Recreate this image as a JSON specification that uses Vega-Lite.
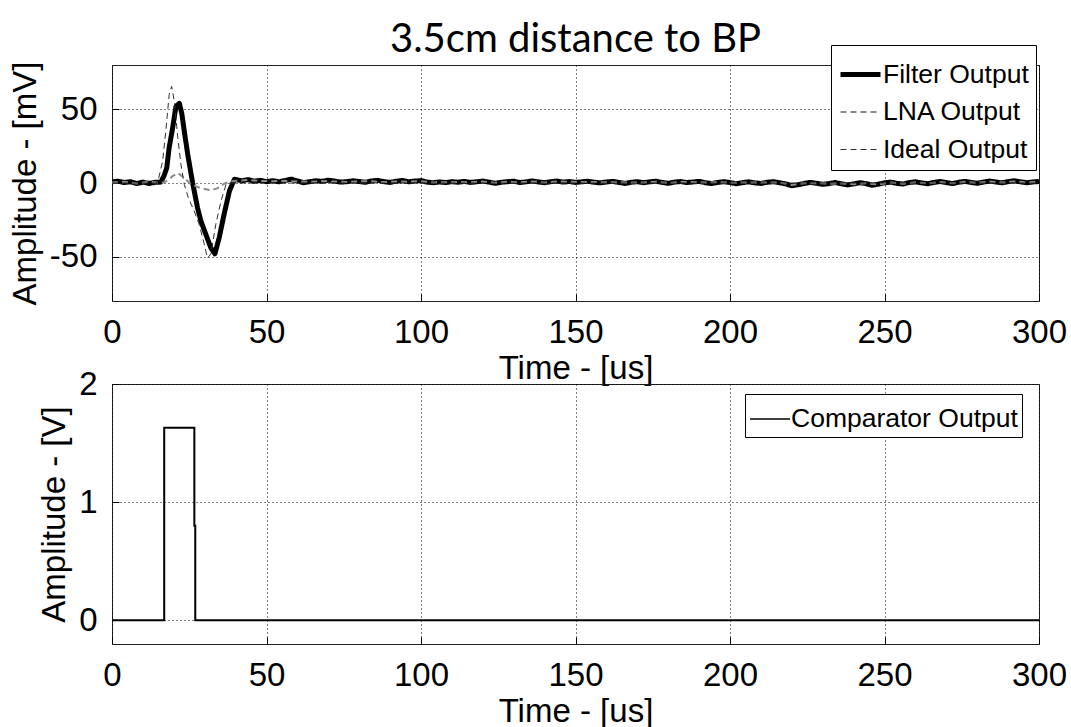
{
  "$schema": "https://vega.github.io/schema/vega-lite/v6.json",
  "padding": {"left": 8, "top": 20, "right": 0, "bottom": 0},
  "background": "white",
  "title": {"text": "3.5cm distance to BP", "font": "Lato", "fontSize": 40, "fontWeight": "normal", "color": "#000", "anchor": "middle", "frame": "group", "baseline": "alphabetic", "offset": -48},
  "datasets": {
    "top": [
      {"t": 0, "v": 0.8, "s": "Filter Output"}, {"t": 2, "v": 1.2, "s": "Filter Output"}, {"t": 4, "v": 0.3, "s": "Filter Output"}, {"t": 6, "v": 0.9, "s": "Filter Output"}, {"t": 8, "v": -0.4, "s": "Filter Output"}, {"t": 10, "v": 0.6, "s": "Filter Output"}, {"t": 12, "v": -0.3, "s": "Filter Output"}, {"t": 14, "v": 0.5, "s": "Filter Output"}, {"t": 15.8, "v": 0.6, "s": "Filter Output"},
      {"t": 16.8, "v": 4.7, "s": "Filter Output"}, {"t": 17.7, "v": 10, "s": "Filter Output"}, {"t": 18.5, "v": 24, "s": "Filter Output"}, {"t": 19.6, "v": 37, "s": "Filter Output"}, {"t": 20.7, "v": 52, "s": "Filter Output"}, {"t": 21.8, "v": 54, "s": "Filter Output"}, {"t": 22.6, "v": 47, "s": "Filter Output"}, {"t": 23.4, "v": 35, "s": "Filter Output"}, {"t": 24.5, "v": 19.5, "s": "Filter Output"}, {"t": 26.1, "v": 0, "s": "Filter Output"}, {"t": 27.7, "v": -17, "s": "Filter Output"}, {"t": 28.8, "v": -26, "s": "Filter Output"}, {"t": 30.4, "v": -35, "s": "Filter Output"}, {"t": 32, "v": -44, "s": "Filter Output"}, {"t": 33.3, "v": -48, "s": "Filter Output"}, {"t": 34.7, "v": -37, "s": "Filter Output"}, {"t": 36.3, "v": -21, "s": "Filter Output"}, {"t": 38, "v": -5.4, "s": "Filter Output"}, {"t": 39.6, "v": 2.5, "s": "Filter Output"},
      {"t": 42, "v": 1.5, "s": "Filter Output"}, {"t": 44, "v": 2.3, "s": "Filter Output"}, {"t": 46, "v": 1.2, "s": "Filter Output"}, {"t": 48, "v": 1.8, "s": "Filter Output"}, {"t": 50, "v": 0.9, "s": "Filter Output"}, {"t": 52, "v": 1.6, "s": "Filter Output"}, {"t": 54, "v": 0.8, "s": "Filter Output"}, {"t": 56, "v": 1.7, "s": "Filter Output"}, {"t": 58, "v": 2.6, "s": "Filter Output"}, {"t": 60, "v": 1.4, "s": "Filter Output"}, {"t": 62, "v": 0.2, "s": "Filter Output"}, {"t": 64, "v": 0.9, "s": "Filter Output"}, {"t": 66, "v": 1.5, "s": "Filter Output"}, {"t": 68, "v": 1.1, "s": "Filter Output"}, {"t": 70, "v": 1.9, "s": "Filter Output"}, {"t": 72, "v": 1.3, "s": "Filter Output"}, {"t": 74, "v": 0.6, "s": "Filter Output"}, {"t": 76, "v": 0.9, "s": "Filter Output"}, {"t": 78, "v": 1.5, "s": "Filter Output"}, {"t": 80, "v": 1.0, "s": "Filter Output"}, {"t": 82, "v": 0.5, "s": "Filter Output"}, {"t": 84, "v": 1.4, "s": "Filter Output"}, {"t": 86, "v": 1.8, "s": "Filter Output"}, {"t": 88, "v": 0.9, "s": "Filter Output"}, {"t": 90, "v": 0.4, "s": "Filter Output"}, {"t": 92, "v": 1.2, "s": "Filter Output"}, {"t": 94, "v": 1.7, "s": "Filter Output"}, {"t": 96, "v": 0.8, "s": "Filter Output"}, {"t": 98, "v": 1.3, "s": "Filter Output"}, {"t": 100, "v": 1.6, "s": "Filter Output"}, {"t": 102, "v": 0.6, "s": "Filter Output"}, {"t": 104, "v": 0.2, "s": "Filter Output"}, {"t": 106, "v": 0.7, "s": "Filter Output"}, {"t": 108, "v": 0.3, "s": "Filter Output"}, {"t": 110, "v": 0.9, "s": "Filter Output"}, {"t": 112, "v": 0.5, "s": "Filter Output"}, {"t": 114, "v": 1.1, "s": "Filter Output"}, {"t": 116, "v": 0.4, "s": "Filter Output"}, {"t": 118, "v": 0.8, "s": "Filter Output"}, {"t": 120, "v": 1.3, "s": "Filter Output"}, {"t": 122, "v": 0.6, "s": "Filter Output"}, {"t": 124, "v": -0.2, "s": "Filter Output"}, {"t": 126, "v": 0.5, "s": "Filter Output"}, {"t": 128, "v": 0.9, "s": "Filter Output"}, {"t": 130, "v": 1.2, "s": "Filter Output"}, {"t": 132, "v": 0.3, "s": "Filter Output"}, {"t": 134, "v": 0.8, "s": "Filter Output"}, {"t": 136, "v": 1.4, "s": "Filter Output"}, {"t": 138, "v": 0.7, "s": "Filter Output"}, {"t": 140, "v": 0.2, "s": "Filter Output"}, {"t": 142, "v": 0.9, "s": "Filter Output"}, {"t": 144, "v": 1.3, "s": "Filter Output"}, {"t": 146, "v": 0.6, "s": "Filter Output"}, {"t": 148, "v": 1.0, "s": "Filter Output"}, {"t": 150, "v": 0.4, "s": "Filter Output"}, {"t": 152, "v": 0.8, "s": "Filter Output"}, {"t": 154, "v": 1.2, "s": "Filter Output"}, {"t": 156, "v": 0.5, "s": "Filter Output"}, {"t": 158, "v": 0.1, "s": "Filter Output"}, {"t": 160, "v": 0.7, "s": "Filter Output"}, {"t": 162, "v": 1.1, "s": "Filter Output"}, {"t": 164, "v": 0.4, "s": "Filter Output"}, {"t": 166, "v": -0.3, "s": "Filter Output"}, {"t": 168, "v": 0.5, "s": "Filter Output"}, {"t": 170, "v": 0.9, "s": "Filter Output"}, {"t": 172, "v": 0.2, "s": "Filter Output"}, {"t": 174, "v": 0.8, "s": "Filter Output"}, {"t": 176, "v": 1.2, "s": "Filter Output"}, {"t": 178, "v": 0.4, "s": "Filter Output"}, {"t": 180, "v": -0.2, "s": "Filter Output"}, {"t": 182, "v": 0.6, "s": "Filter Output"}, {"t": 184, "v": 1.0, "s": "Filter Output"}, {"t": 186, "v": 0.3, "s": "Filter Output"}, {"t": 188, "v": 0.7, "s": "Filter Output"}, {"t": 190, "v": 1.1, "s": "Filter Output"}, {"t": 192, "v": 0.2, "s": "Filter Output"}, {"t": 194, "v": -0.4, "s": "Filter Output"}, {"t": 196, "v": 0.4, "s": "Filter Output"}, {"t": 198, "v": 0.9, "s": "Filter Output"}, {"t": 200, "v": 0.3, "s": "Filter Output"}, {"t": 202, "v": -0.5, "s": "Filter Output"}, {"t": 204, "v": 0.2, "s": "Filter Output"}, {"t": 206, "v": 0.8, "s": "Filter Output"}, {"t": 208, "v": 0.1, "s": "Filter Output"}, {"t": 210, "v": -0.3, "s": "Filter Output"}, {"t": 212, "v": 0.5, "s": "Filter Output"}, {"t": 214, "v": 0.9, "s": "Filter Output"}, {"t": 216, "v": 0.2, "s": "Filter Output"}, {"t": 218, "v": -0.6, "s": "Filter Output"}, {"t": 220, "v": -1.8, "s": "Filter Output"}, {"t": 222, "v": -1.2, "s": "Filter Output"}, {"t": 224, "v": -0.3, "s": "Filter Output"}, {"t": 226, "v": 0.4, "s": "Filter Output"}, {"t": 228, "v": -0.2, "s": "Filter Output"}, {"t": 230, "v": -0.9, "s": "Filter Output"}, {"t": 232, "v": -0.4, "s": "Filter Output"}, {"t": 234, "v": 0.3, "s": "Filter Output"}, {"t": 236, "v": -0.5, "s": "Filter Output"}, {"t": 238, "v": -1.3, "s": "Filter Output"}, {"t": 240, "v": -0.6, "s": "Filter Output"}, {"t": 242, "v": 0.2, "s": "Filter Output"}, {"t": 244, "v": -0.4, "s": "Filter Output"}, {"t": 246, "v": -1.5, "s": "Filter Output"}, {"t": 248, "v": -0.8, "s": "Filter Output"}, {"t": 250, "v": 0.1, "s": "Filter Output"}, {"t": 252, "v": 0.6, "s": "Filter Output"}, {"t": 254, "v": -0.2, "s": "Filter Output"}, {"t": 256, "v": -0.7, "s": "Filter Output"}, {"t": 258, "v": 0.3, "s": "Filter Output"}, {"t": 260, "v": 0.8, "s": "Filter Output"}, {"t": 262, "v": 0.1, "s": "Filter Output"}, {"t": 264, "v": -0.5, "s": "Filter Output"}, {"t": 266, "v": 0.4, "s": "Filter Output"}, {"t": 268, "v": 1.0, "s": "Filter Output"}, {"t": 270, "v": 0.3, "s": "Filter Output"}, {"t": 272, "v": -0.4, "s": "Filter Output"}, {"t": 274, "v": 0.5, "s": "Filter Output"}, {"t": 276, "v": 1.1, "s": "Filter Output"}, {"t": 278, "v": 0.4, "s": "Filter Output"}, {"t": 280, "v": -0.2, "s": "Filter Output"}, {"t": 282, "v": 0.6, "s": "Filter Output"}, {"t": 284, "v": 1.3, "s": "Filter Output"}, {"t": 286, "v": 0.7, "s": "Filter Output"}, {"t": 288, "v": 0.1, "s": "Filter Output"}, {"t": 290, "v": 0.9, "s": "Filter Output"}, {"t": 292, "v": 1.5, "s": "Filter Output"}, {"t": 294, "v": 0.8, "s": "Filter Output"}, {"t": 296, "v": 0.2, "s": "Filter Output"}, {"t": 298, "v": 0.7, "s": "Filter Output"}, {"t": 300, "v": 1.0, "s": "Filter Output"},

      {"t": 0, "v": 0.3, "s": "LNA Output"}, {"t": 4, "v": 0.8, "s": "LNA Output"}, {"t": 8, "v": -0.3, "s": "LNA Output"}, {"t": 12, "v": 0.9, "s": "LNA Output"}, {"t": 16, "v": 0.2, "s": "LNA Output"}, {"t": 17, "v": 0.5, "s": "LNA Output"}, {"t": 18.5, "v": 2.5, "s": "LNA Output"}, {"t": 19.6, "v": 4.7, "s": "LNA Output"}, {"t": 21.3, "v": 6.8, "s": "LNA Output"}, {"t": 23.3, "v": 3.6, "s": "LNA Output"}, {"t": 25.6, "v": -1, "s": "LNA Output"}, {"t": 28.8, "v": -3.5, "s": "LNA Output"}, {"t": 32, "v": -5, "s": "LNA Output"}, {"t": 34.2, "v": -3.5, "s": "LNA Output"}, {"t": 36.3, "v": -0.5, "s": "LNA Output"}, {"t": 38, "v": 0.8, "s": "LNA Output"}, {"t": 40, "v": 1.5, "s": "LNA Output"},
      {"t": 44, "v": 2.0, "s": "LNA Output"}, {"t": 48, "v": 1.4, "s": "LNA Output"}, {"t": 52, "v": 1.2, "s": "LNA Output"}, {"t": 56, "v": 1.5, "s": "LNA Output"}, {"t": 60, "v": 1.0, "s": "LNA Output"}, {"t": 64, "v": 0.8, "s": "LNA Output"}, {"t": 68, "v": 1.3, "s": "LNA Output"}, {"t": 72, "v": 1.0, "s": "LNA Output"}, {"t": 76, "v": 0.7, "s": "LNA Output"}, {"t": 80, "v": 1.1, "s": "LNA Output"}, {"t": 84, "v": 1.2, "s": "LNA Output"}, {"t": 88, "v": 0.6, "s": "LNA Output"}, {"t": 92, "v": 1.0, "s": "LNA Output"}, {"t": 96, "v": 0.9, "s": "LNA Output"}, {"t": 100, "v": 1.2, "s": "LNA Output"}, {"t": 104, "v": 0.4, "s": "LNA Output"}, {"t": 108, "v": 0.5, "s": "LNA Output"}, {"t": 112, "v": 0.7, "s": "LNA Output"}, {"t": 116, "v": 0.5, "s": "LNA Output"}, {"t": 120, "v": 1.0, "s": "LNA Output"}, {"t": 124, "v": 0.2, "s": "LNA Output"}, {"t": 128, "v": 0.8, "s": "LNA Output"}, {"t": 132, "v": 0.5, "s": "LNA Output"}, {"t": 136, "v": 1.0, "s": "LNA Output"}, {"t": 140, "v": 0.4, "s": "LNA Output"}, {"t": 144, "v": 1.0, "s": "LNA Output"}, {"t": 148, "v": 0.8, "s": "LNA Output"}, {"t": 152, "v": 0.6, "s": "LNA Output"}, {"t": 156, "v": 0.7, "s": "LNA Output"}, {"t": 160, "v": 0.5, "s": "LNA Output"}, {"t": 164, "v": 0.6, "s": "LNA Output"}, {"t": 168, "v": 0.3, "s": "LNA Output"}, {"t": 172, "v": 0.4, "s": "LNA Output"}, {"t": 176, "v": 0.9, "s": "LNA Output"}, {"t": 180, "v": 0.1, "s": "LNA Output"}, {"t": 184, "v": 0.8, "s": "LNA Output"}, {"t": 188, "v": 0.6, "s": "LNA Output"}, {"t": 192, "v": 0.4, "s": "LNA Output"}, {"t": 196, "v": 0.5, "s": "LNA Output"}, {"t": 200, "v": 0.2, "s": "LNA Output"}, {"t": 204, "v": 0.3, "s": "LNA Output"}, {"t": 208, "v": 0.3, "s": "LNA Output"}, {"t": 212, "v": 0.4, "s": "LNA Output"}, {"t": 216, "v": 0.4, "s": "LNA Output"}, {"t": 220, "v": -1.3, "s": "LNA Output"}, {"t": 224, "v": -0.2, "s": "LNA Output"}, {"t": 228, "v": -0.1, "s": "LNA Output"}, {"t": 232, "v": -0.5, "s": "LNA Output"}, {"t": 236, "v": -0.3, "s": "LNA Output"}, {"t": 240, "v": -0.8, "s": "LNA Output"}, {"t": 244, "v": -0.2, "s": "LNA Output"}, {"t": 248, "v": -1.0, "s": "LNA Output"}, {"t": 252, "v": 0.4, "s": "LNA Output"}, {"t": 256, "v": -0.5, "s": "LNA Output"}, {"t": 260, "v": 0.5, "s": "LNA Output"}, {"t": 264, "v": -0.3, "s": "LNA Output"}, {"t": 268, "v": 0.7, "s": "LNA Output"}, {"t": 272, "v": -0.2, "s": "LNA Output"}, {"t": 276, "v": 0.8, "s": "LNA Output"}, {"t": 280, "v": 0.1, "s": "LNA Output"}, {"t": 284, "v": 1.0, "s": "LNA Output"}, {"t": 288, "v": 0.3, "s": "LNA Output"}, {"t": 292, "v": 1.1, "s": "LNA Output"}, {"t": 296, "v": 0.4, "s": "LNA Output"}, {"t": 300, "v": 0.8, "s": "LNA Output"},

      {"t": 0, "v": 0, "s": "Ideal Output"}, {"t": 14, "v": 0, "s": "Ideal Output"}, {"t": 14.8, "v": 0.5, "s": "Ideal Output"}, {"t": 16.4, "v": 15, "s": "Ideal Output"}, {"t": 17.5, "v": 37, "s": "Ideal Output"}, {"t": 18.5, "v": 60, "s": "Ideal Output"}, {"t": 19.3, "v": 65.5, "s": "Ideal Output"}, {"t": 20.2, "v": 55, "s": "Ideal Output"}, {"t": 21.3, "v": 30.6, "s": "Ideal Output"}, {"t": 22.3, "v": 12.6, "s": "Ideal Output"}, {"t": 23.4, "v": -1, "s": "Ideal Output"}, {"t": 24.7, "v": -10, "s": "Ideal Output"}, {"t": 26.6, "v": -19, "s": "Ideal Output"}, {"t": 28.2, "v": -28, "s": "Ideal Output"}, {"t": 29.8, "v": -41, "s": "Ideal Output"}, {"t": 30.9, "v": -51, "s": "Ideal Output"}, {"t": 32, "v": -48, "s": "Ideal Output"}, {"t": 33.6, "v": -28, "s": "Ideal Output"}, {"t": 35.3, "v": -12, "s": "Ideal Output"}, {"t": 36.9, "v": -1, "s": "Ideal Output"}, {"t": 38, "v": 0, "s": "Ideal Output"}, {"t": 300, "v": 0, "s": "Ideal Output"}
    ],
    "bottom": [
      {"t": 0, "v": 0, "s": "Comparator Output"},
      {"t": 16.9, "v": 0, "s": "Comparator Output"},
      {"t": 16.9, "v": 1.63, "s": "Comparator Output"},
      {"t": 26.65, "v": 1.63, "s": "Comparator Output"},
      {"t": 26.65, "v": 0.8, "s": "Comparator Output"},
      {"t": 26.95, "v": 0.8, "s": "Comparator Output"},
      {"t": 26.95, "v": 0, "s": "Comparator Output"},
      {"t": 300, "v": 0, "s": "Comparator Output"}
    ]
  },
  "bounds": "flush",
  "spacing": 83,
  "resolve": {
    "scale": {"color": "independent", "strokeDash": "independent", "strokeWidth": "independent"},
    "legend": {"color": "independent", "strokeDash": "independent", "strokeWidth": "independent"}
  },
  "vconcat": [
    {
      "width": 927,
      "height": 236,
      "data": {"name": "top"},
      "mark": {"type": "line", "clip": true, "strokeCap": "butt", "strokeJoin": "round"},
      "encoding": {
        "x": {"field": "t", "type": "quantitative", "scale": {"domain": [0, 300], "nice": false}, "axis": {"title": "Time - [us]", "values": [0, 50, 100, 150, 200, 250, 300]}},
        "y": {"field": "v", "type": "quantitative", "scale": {"domain": [-80, 80], "nice": false}, "axis": {"title": "Amplitude - [mV]", "values": [-50, 0, 50], "labelExpr": "datum.value < 0 ? '-' + abs(datum.value) : datum.label"}},
        "color": {"field": "s", "type": "nominal", "scale": {"domain": ["Filter Output", "LNA Output", "Ideal Output"], "range": ["#000000", "#8a8a8a", "#303030"]}, "legend": {"title": null, "orient": "none", "legendX": 719, "legendY": -20, "rowPadding": 3}},
        "strokeDash": {"field": "s", "type": "nominal", "scale": {"domain": ["Filter Output", "LNA Output", "Ideal Output"], "range": [[1, 0], [6, 4], [6, 4]]}, "legend": {"title": null, "orient": "none", "legendX": 719, "legendY": -20, "rowPadding": 3}},
        "strokeWidth": {"field": "s", "type": "nominal", "scale": {"type": "ordinal", "domain": ["Filter Output", "LNA Output", "Ideal Output"], "range": [5, 2, 1]}, "legend": {"title": null, "orient": "none", "legendX": 719, "legendY": -20, "rowPadding": 3}}
      }
    },
    {
      "width": 927,
      "height": 260,
      "data": {"name": "bottom"},
      "mark": {"type": "line", "clip": true, "strokeWidth": 2, "strokeCap": "butt"},
      "encoding": {
        "x": {"field": "t", "type": "quantitative", "scale": {"domain": [0, 300], "nice": false}, "axis": {"title": "Time - [us]", "values": [0, 50, 100, 150, 200, 250, 300]}},
        "y": {"field": "v", "type": "quantitative", "scale": {"domain": [-0.2, 2], "nice": false}, "axis": {"title": "Amplitude - [V]", "values": [0, 1, 2]}},
        "color": {"field": "s", "type": "nominal", "scale": {"domain": ["Comparator Output"], "range": ["#000000"]}, "legend": {"title": null, "orient": "none", "legendX": 633, "legendY": 10, "padding": 4, "symbolStrokeWidth": 1.5}},
        "order": {"value": null}
      }
    }
  ],
  "config": {
    "font": "Liberation Sans",
    "view": {"stroke": "#222222", "strokeWidth": 1},
    "axis": {
      "domain": false,
      "grid": true,
      "gridColor": "#000000",
      "gridDash": [1, 3],
      "gridOpacity": 1,
      "gridWidth": 1,
      "ticks": true,
      "tickSize": -7,
      "tickColor": "#000000",
      "tickWidth": 1,
      "labelFont": "Liberation Sans",
      "labelFontSize": 33,
      "labelColor": "#000000",
      "labelFlush": false,
      "labelOverlap": false,
      "titleFont": "Liberation Sans",
      "titleFontSize": 33,
      "titleFontWeight": "normal",
      "titleColor": "#000000"
    },
    "axisX": {"labelPadding": 22, "titlePadding": 3},
    "axisY": {"labelPadding": 22, "titlePadding": 7},
    "legend": {
      "symbolType": "stroke",
      "symbolSize": 1600,
      "labelFont": "Liberation Sans",
      "labelFontSize": 26.5,
      "labelColor": "#000000",
      "labelOffset": 0,
      "labelLimit": 0,
      "strokeColor": "#000000",
      "fillColor": "#ffffff",
      "padding": 7,
      "cornerRadius": 0
    }
  }
}
